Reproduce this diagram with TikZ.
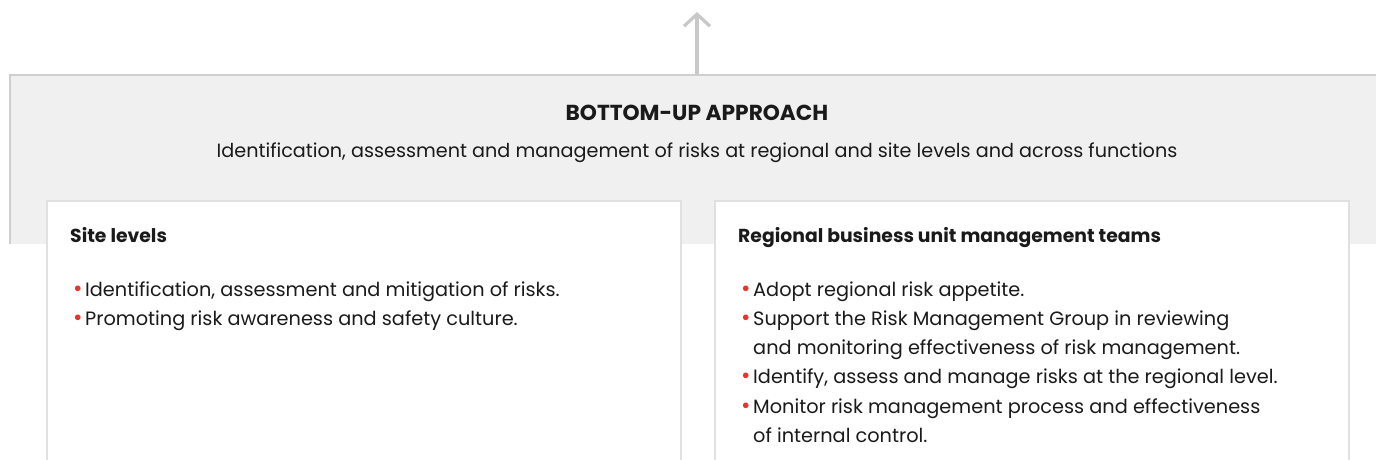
\documentclass[tikz,border=0pt]{standalone}
\usepackage{fontspec}
\setmainfont{Poppins}
\usetikzlibrary{arrows.meta}
\definecolor{bandgray}{HTML}{F0F0F0}
\definecolor{bandline}{HTML}{CFCFCF}
\definecolor{boxline}{HTML}{E0E0E0}
\definecolor{arrowgray}{HTML}{C8C8C8}
\definecolor{bulred}{HTML}{E8352B}
\definecolor{txt}{HTML}{1A1A1A}
\newcommand{\bul}{\makebox[12pt][l]{\textcolor{bulred}{\raisebox{-0.5pt}{\fontsize{23}{24}\selectfont •}}}}
\newcommand{\cont}{\hspace*{12pt}}
\tikzset{
  band/.style={fill=bandgray, draw=none, anchor=north west, minimum width=1366pt, minimum height=169pt, inner sep=0pt},
  card/.style={fill=white, draw=boxline, line width=2pt, anchor=north west, minimum width=634pt, minimum height=300pt, inner sep=0pt},
  bodytext/.style={text=txt, inner sep=0pt, anchor=base west, font=\fontsize{19.3}{24}\selectfont},
  headtext/.style={text=txt, inner sep=0pt, anchor=base west, font=\fontsize{18.8}{22}\selectfont\bfseries},
  arrowline/.style={draw=arrowgray, line width=3.2pt, -{Straight Barb[length=12pt,width=26pt,line width=3.2pt]}}
}
\begin{document}
\begin{tikzpicture}[x=1pt,y=-1pt]
\useasboundingbox (0,0) rectangle (1376,459);
\clip (0,0) rectangle (1376,459);
\node[band] (band) at (10,75) {};
\draw[bandline, line width=2.5pt] (band.south west) -- (band.north west) -- (band.north east);
\coordinate (tip) at (697,12);
\draw[arrowline] (band.north -| tip) -- (tip);
\node[text=txt, inner sep=0pt, anchor=base, font=\fontsize{21.7}{24}\selectfont\bfseries] (title) at (697,120) {BOTTOM-UP APPROACH};
\node[text=txt, inner sep=0pt, anchor=base, font=\fontsize{19.2}{24}\selectfont] (sub) at (697,157) {Identification, assessment and management of risks at regional and site levels and across functions};
\node[card] (left) at (46,200) {};
\node[card] (right) at (714,200) {};
\node[headtext] (lhead) at (70,242) {Site levels};
\node[headtext] (rhead) at (738,242) {Regional business unit management teams};
\node[bodytext] (l1) at (73,296) {\bul Identification, assessment and mitigation of risks.};
\node[bodytext] (l2) at (73,325) {\bul Promoting risk awareness and safety culture.};
\node[bodytext] (r1) at (741,296) {\bul Adopt regional risk appetite.};
\node[bodytext] (r2) at (741,325) {\bul Support the Risk Management Group in reviewing};
\node[bodytext] (r3) at (741,354) {\cont and monitoring effectiveness of risk management.};
\node[bodytext] (r4) at (741,383) {\bul Identify, assess and manage risks at the regional level.};
\node[bodytext] (r5) at (741,413) {\bul Monitor risk management process and effectiveness};
\node[bodytext] (r6) at (741,442) {\cont of internal control.};
\end{tikzpicture}
\end{document}
